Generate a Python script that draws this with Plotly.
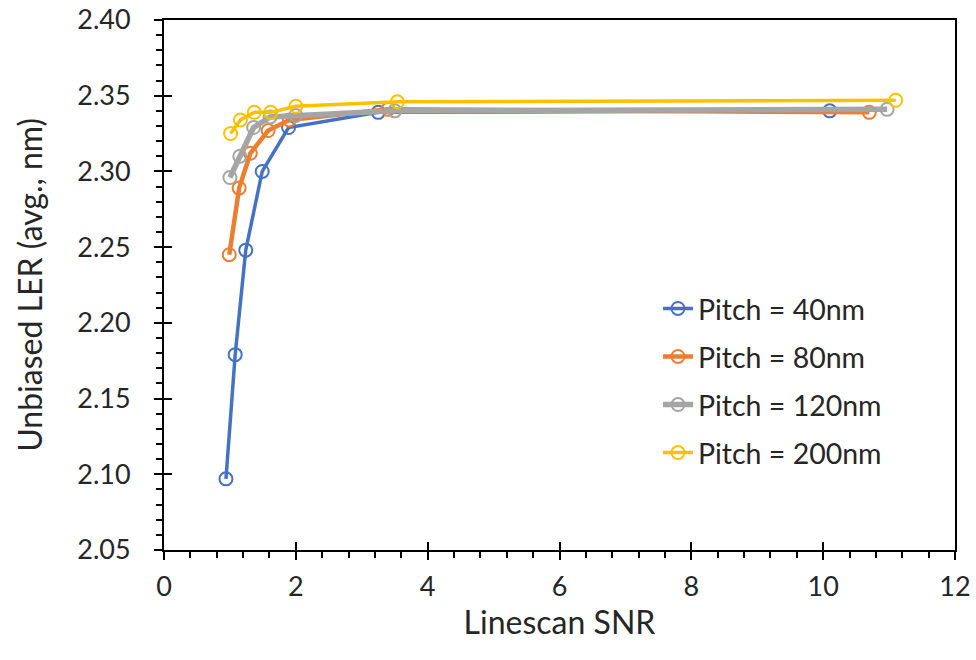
import plotly.graph_objects as go

names = ["Pitch = 40nm", "Pitch = 80nm", "Pitch = 120nm", "Pitch = 200nm"]
colors = ["#4472C4", "#ED7D31", "#A5A5A5", "#FFC000"]
widths = [3.5, 4.5, 5.5, 3.5]

snr_40 = [0.94, 1.08, 1.24, 1.49, 1.89, 3.25, 10.10]
ler_40 = [2.097, 2.179, 2.248, 2.300, 2.329, 2.339, 2.340]

snr_80 = [0.99, 1.14, 1.31, 1.58, 1.90, 3.40, 10.70]
ler_80 = [2.245, 2.289, 2.312, 2.327, 2.334, 2.341, 2.339]

snr_120 = [1.00, 1.15, 1.36, 1.61, 2.00, 3.50, 10.97]
ler_120 = [2.296, 2.310, 2.329, 2.336, 2.337, 2.340, 2.341]

snr_200 = [1.01, 1.16, 1.37, 1.62, 2.00, 3.54, 11.10]
ler_200 = [2.325, 2.334, 2.339, 2.339, 2.343, 2.346, 2.347]

xs = [snr_40, snr_80, snr_120, snr_200]
ys = [ler_40, ler_80, ler_120, ler_200]

FONT = "Lato"
TXT = "#262626"
fig = go.Figure()
for i in range(4):
    fig.add_trace(go.Scatter(
        x=xs[i], y=ys[i], mode="lines+markers", name=names[i],
        legendgroup=names[i],
        line=dict(color=colors[i], width=widths[i]),
        marker=dict(symbol="circle-open", size=13, color=colors[i],
                    line=dict(width=2, color=colors[i])),
    ))

xr = [0, 12]
yr = [2.05, 2.40]
fig.update_layout(
    width=976, height=660,
    margin=dict(l=164, r=21, t=20, b=110),
    plot_bgcolor="white", paper_bgcolor="white",
    font=dict(family=FONT, size=27, color=TXT),
    showlegend=True,
    legend=dict(x=0.6245, y=0.503, xanchor="left", yanchor="top",
                bgcolor="rgba(0,0,0,0)", font=dict(size=28.5, color=TXT),
                traceorder="grouped", tracegroupgap=8),
    xaxis=dict(range=xr, dtick=2, tick0=0, showgrid=False, zeroline=False,
               showline=True, linecolor="black", linewidth=2, mirror=True,
               ticks="outside", ticklen=8, tickwidth=2, tickcolor="black",
               minor=dict(dtick=0.4, ticks="outside", ticklen=6, tickwidth=2,
                          tickcolor="black", showgrid=False),
               ticklabelstandoff=4, automargin=False, ticklabeloverflow="allow",
               title=dict(text="Linescan SNR", font=dict(size=32), standoff=6),
               tickfont=dict(size=27)),
    yaxis=dict(range=yr, dtick=0.05, tick0=2.05, tickformat=".2f", showgrid=False,
               zeroline=False, showline=True, linecolor="black", linewidth=2,
               mirror=True, ticks="outside", ticklen=8, tickwidth=2,
               tickcolor="black",
               minor=dict(dtick=0.01, ticks="outside", ticklen=6, tickwidth=2,
                          tickcolor="black", showgrid=False),
               ticklabelstandoff=18, automargin=False, ticklabeloverflow="allow",
               tickfont=dict(size=27)),
    xaxis2=dict(range=xr, dtick=2, tick0=0, overlaying="x", anchor="y",
                side="bottom", showgrid=False, zeroline=False, showline=False,
                showticklabels=False, ticks="inside", ticklen=8, tickwidth=2,
                tickcolor="black", automargin=False),
    yaxis2=dict(range=yr, dtick=0.05, tick0=2.05, overlaying="y", anchor="x",
                side="left", showgrid=False, zeroline=False, showline=False,
                showticklabels=False, ticks="inside", ticklen=8, tickwidth=2,
                tickcolor="black", automargin=False),
    annotations=[dict(text="Unbiased LER (avg., nm)", textangle=-90,
                      xref="paper", yref="paper", x=-0.171, y=0.5,
                      xanchor="center", yanchor="middle", showarrow=False,
                      font=dict(size=32, color=TXT, family=FONT))],
)
fig.add_trace(go.Scatter(x=[None], y=[None], xaxis="x2", yaxis="y2",
                         showlegend=False, hoverinfo="skip"))
fig.write_html("out.html", config={"displayModeBar": False},
               post_script="document.body.style.margin='0';document.body.style.overflow='hidden';")
